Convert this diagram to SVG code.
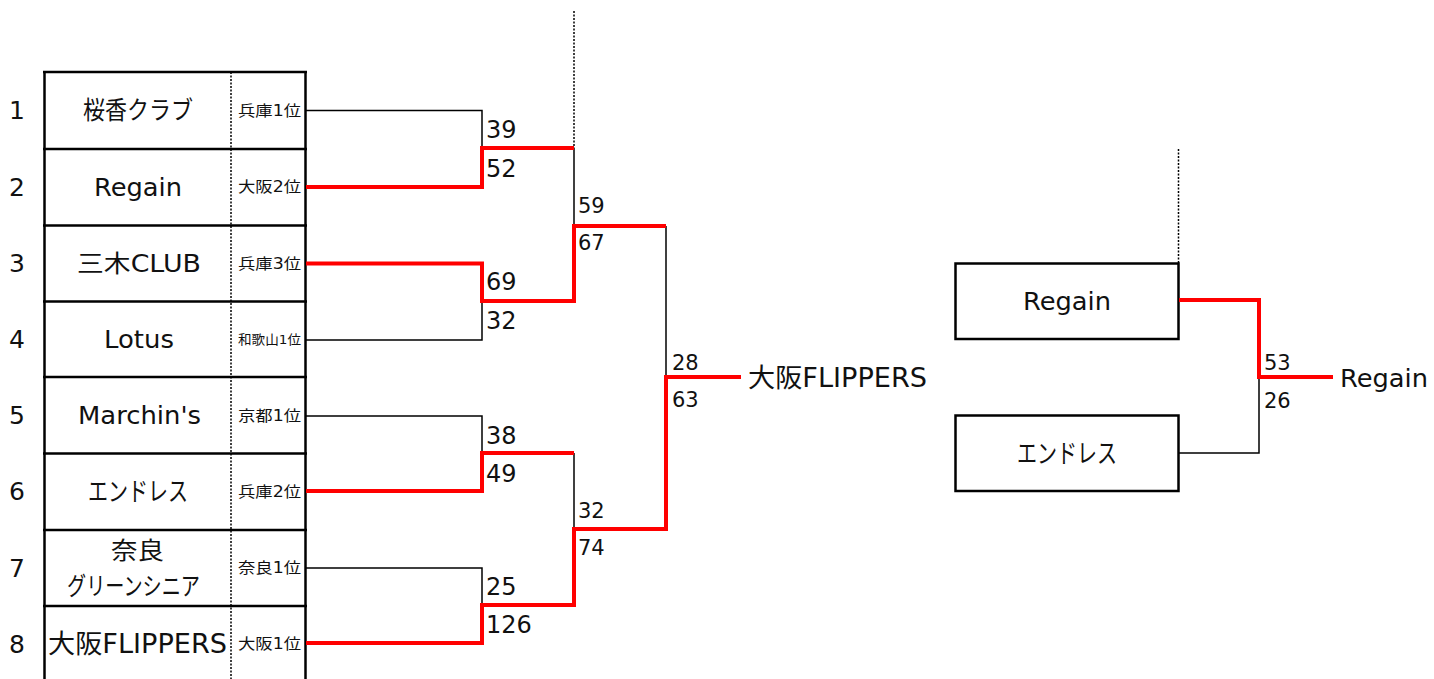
<svg xmlns="http://www.w3.org/2000/svg" width="1434" height="679" viewBox="0 0 1434 679">
<style>
.t{font-family:"DejaVu Sans","Noto Sans CJK JP",sans-serif;fill:#111}
.num{font-size:25px;text-anchor:middle}
.nm{font-size:24px;text-anchor:middle}
.seed{font-size:15px;text-anchor:middle}
.s1{font-size:24px}
.s2{font-size:21px}
.fin{font-size:25px}
.grid{stroke:#000;stroke-width:2.5;fill:none}
.dot{stroke:#000;stroke-width:1.5;stroke-dasharray:2 1.5;fill:none}
.lose{stroke:#000;stroke-width:1.5;fill:none}
.win{stroke:#FF0000;stroke-width:4;fill:none;stroke-linejoin:miter}
.box{stroke:#000;stroke-width:2.5;fill:#fff}
</style>
<rect width="1434" height="679" fill="#fff"/>
<g id="table">
<line class="grid" x1="44.5" y1="71" x2="44.5" y2="679"/>
<line class="grid" x1="305.5" y1="71" x2="305.5" y2="679"/>
<line class="dot" x1="231" y1="72" x2="231" y2="679"/>
<line class="grid" x1="43" y1="72" x2="307" y2="72"/>
<line class="grid" x1="43" y1="149" x2="307" y2="149"/>
<line class="grid" x1="43" y1="225.5" x2="307" y2="225.5"/>
<line class="grid" x1="43" y1="301.5" x2="307" y2="301.5"/>
<line class="grid" x1="43" y1="377" x2="307" y2="377"/>
<line class="grid" x1="43" y1="453.5" x2="307" y2="453.5"/>
<line class="grid" x1="43" y1="530" x2="307" y2="530"/>
<line class="grid" x1="43" y1="606" x2="307" y2="606"/>
</g>
<g id="team1">
<text class="t num" x="17" y="119">1</text>
<text class="t nm" x="138" y="119" style="font-size:25px" textLength="110" lengthAdjust="spacingAndGlyphs">桜香クラブ</text>
<text class="t seed" x="269.5" y="116" textLength="63" lengthAdjust="spacingAndGlyphs">兵庫1位</text>
</g>
<g id="team2">
<text class="t num" x="17" y="196">2</text>
<text class="t nm" x="138" y="196" style="font-size:25px" textLength="88" lengthAdjust="spacingAndGlyphs">Regain</text>
<text class="t seed" x="269.5" y="192" textLength="63" lengthAdjust="spacingAndGlyphs">大阪2位</text>
</g>
<g id="team3">
<text class="t num" x="17" y="272">3</text>
<text class="t nm" x="139" y="272" textLength="124" lengthAdjust="spacingAndGlyphs">三木CLUB</text>
<text class="t seed" x="269.5" y="269" textLength="63" lengthAdjust="spacingAndGlyphs">兵庫3位</text>
</g>
<g id="team4">
<text class="t num" x="17" y="348">4</text>
<text class="t nm" x="139" y="348" style="font-size:25px" textLength="70" lengthAdjust="spacingAndGlyphs">Lotus</text>
<text class="t seed" x="269.5" y="344" style="font-size:13px" textLength="63" lengthAdjust="spacingAndGlyphs">和歌山1位</text>
</g>
<g id="team5">
<text class="t num" x="17" y="424">5</text>
<text class="t nm" x="139.5" y="424" style="font-size:25px" textLength="123" lengthAdjust="spacingAndGlyphs">Marchin's</text>
<text class="t seed" x="269.5" y="421" textLength="63" lengthAdjust="spacingAndGlyphs">京都1位</text>
</g>
<g id="team6">
<text class="t num" x="17" y="500">6</text>
<text class="t nm" x="138" y="501" style="font-size:26px" textLength="100" lengthAdjust="spacingAndGlyphs">エンドレス</text>
<text class="t seed" x="269.5" y="497" textLength="63" lengthAdjust="spacingAndGlyphs">兵庫2位</text>
</g>
<g id="team7">
<text class="t num" x="17" y="577">7</text>
<text class="t nm" x="137.5" y="559" textLength="53" lengthAdjust="spacingAndGlyphs">奈良</text>
<text class="t nm" x="133.5" y="595" style="font-size:25px" textLength="133" lengthAdjust="spacingAndGlyphs">グリーンシニア</text>
<text class="t seed" x="269.5" y="573" textLength="63" lengthAdjust="spacingAndGlyphs">奈良1位</text>
</g>
<g id="team8">
<text class="t num" x="17" y="653">8</text>
<text class="t nm" x="137.5" y="653" style="font-size:26px" textLength="179" lengthAdjust="spacingAndGlyphs">大阪FLIPPERS</text>
<text class="t seed" x="269.5" y="649" textLength="63" lengthAdjust="spacingAndGlyphs">大阪1位</text>
</g>
<g id="box-regain">
<rect class="box" x="955.5" y="263.5" width="223" height="75.5"/>
<text class="t nm" x="1067" y="310" style="font-size:25px" textLength="88" lengthAdjust="spacingAndGlyphs">Regain</text>
</g>
<g id="box-endless">
<rect class="box" x="955.5" y="415.5" width="223" height="75.5"/>
<text class="t nm" x="1067" y="463" style="font-size:26px" textLength="100" lengthAdjust="spacingAndGlyphs">エンドレス</text>
</g>
<g id="connectors">
<line class="dot" x1="574" y1="11" x2="574" y2="148"/>
<line class="dot" x1="1178.5" y1="149" x2="1178.5" y2="263"/>
<polyline class="lose" points="306,110.5 482,110.5 482,148"/>
<polyline class="lose" points="306,340 482,340 482,301"/>
<polyline class="lose" points="306,416 482,416 482,453"/>
<polyline class="lose" points="306,568 482,568 482,605"/>
<polyline class="lose" points="574,148 574,226"/>
<polyline class="lose" points="574,453 574,529"/>
<polyline class="lose" points="666,226 666,377"/>
<polyline class="lose" points="1179,453 1259,453 1259,377"/>
<polyline class="win" points="306,187 482,187 482,148 574,148"/>
<polyline class="win" points="306,263.5 482,263.5 482,301 574,301 574,226 666,226"/>
<polyline class="win" points="306,491 482,491 482,453 574,453"/>
<polyline class="win" points="306,643 482,643 482,605 574,605 574,529 666,529 666,377 741,377"/>
<polyline class="win" points="1179,300 1259,300 1259,377 1333,377"/>
</g>
<g id="scores">
<text class="t s1" x="486" y="138">39</text>
<text class="t s1" x="486" y="177">52</text>
<text class="t s1" x="486" y="290">69</text>
<text class="t s1" x="486" y="329">32</text>
<text class="t s1" x="486" y="444">38</text>
<text class="t s1" x="486" y="482">49</text>
<text class="t s1" x="486" y="595">25</text>
<text class="t s1" x="486" y="633">126</text>
<text class="t s2" x="578" y="213">59</text>
<text class="t s2" x="578" y="250">67</text>
<text class="t s2" x="578" y="518">32</text>
<text class="t s2" x="578" y="555">74</text>
<text class="t s2" x="672" y="370">28</text>
<text class="t s2" x="672" y="407">63</text>
<text class="t s2" x="1264" y="370">53</text>
<text class="t s2" x="1264" y="408">26</text>
</g>
<g id="winners">
<text class="t fin" x="748" y="387" style="font-size:26px" textLength="179" lengthAdjust="spacingAndGlyphs">大阪FLIPPERS</text>
<text class="t fin" x="1340" y="387" textLength="88" lengthAdjust="spacingAndGlyphs">Regain</text>
</g>
</svg>
